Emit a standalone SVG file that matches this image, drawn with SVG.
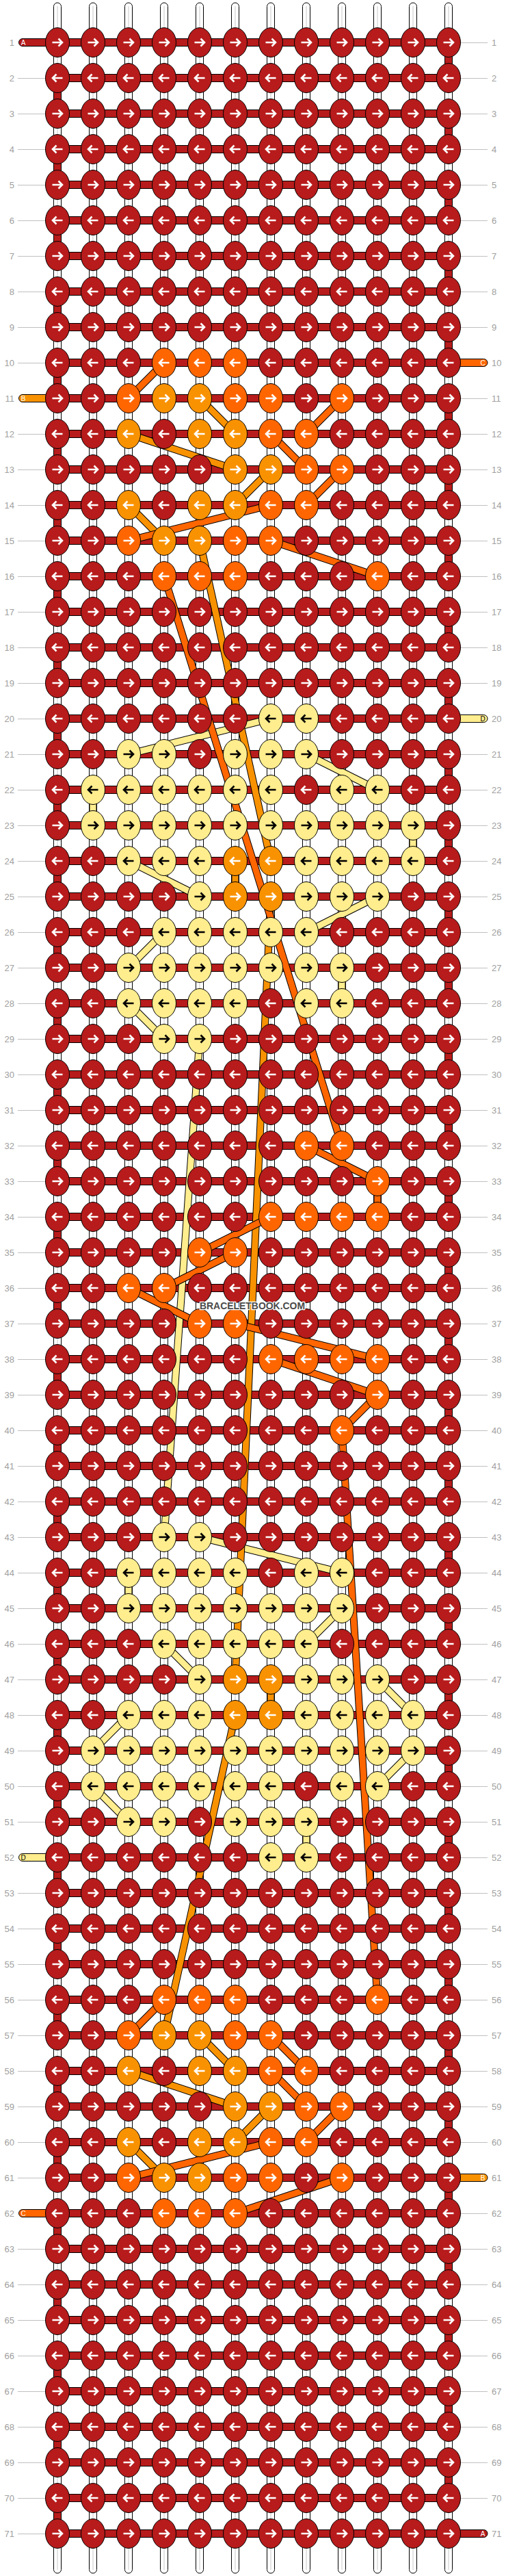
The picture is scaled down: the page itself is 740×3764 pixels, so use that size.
<svg xmlns="http://www.w3.org/2000/svg" xmlns:xlink="http://www.w3.org/1999/xlink" width="740" height="3764" viewBox="0 0 740 3764">
<style>
.s{fill:#fff;stroke:#000;stroke-width:1}
.b{fill:#b71b1b;stroke:#000;stroke-width:1}
.kR{fill:#b71b1b;stroke:#000;stroke-width:1}
.kO{fill:#ff6600;stroke:#000;stroke-width:1}
.kL{fill:#f99200;stroke:#000;stroke-width:1}
.kY{fill:#ffed8e;stroke:#000;stroke-width:1}
.nl{font-family:"Liberation Sans",Arial,sans-serif;font-size:13px;fill:#a0a0a0;text-anchor:end}
.nr{font-family:"Liberation Sans",Arial,sans-serif;font-size:13px;fill:#a0a0a0}
.st{font-family:"Liberation Sans",Arial,sans-serif;font-size:10px;text-anchor:middle}
.gl{stroke:#c0c0c0;stroke-width:1}
.tk{fill:none;stroke:#000;stroke-width:11}
</style>
<defs>
<path id="ar" d="M-7.5,0H6M1.5,-5.5L7,0L1.5,5.5" fill="none" stroke-width="2.6"/>
<path id="al" d="M7.5,0H-6M-1.5,-5.5L-7,0L-1.5,5.5" fill="none" stroke-width="2.6"/>
<g id="Rr"><ellipse rx="17.5" ry="21.5" class="kR"/><use href="#ar" stroke="#fff"/></g>
<g id="Rl"><ellipse rx="17.5" ry="21.5" class="kR"/><use href="#al" stroke="#fff"/></g>
<g id="Or"><ellipse rx="17.5" ry="21.5" class="kO"/><use href="#ar" stroke="#fff"/></g>
<g id="Ol"><ellipse rx="17.5" ry="21.5" class="kO"/><use href="#al" stroke="#fff"/></g>
<g id="Lr"><ellipse rx="17.5" ry="21.5" class="kL"/><use href="#ar" stroke="#fff"/></g>
<g id="Ll"><ellipse rx="17.5" ry="21.5" class="kL"/><use href="#al" stroke="#fff"/></g>
<g id="Yr"><ellipse rx="17.5" ry="21.5" class="kY"/><use href="#ar" stroke="#000"/></g>
<g id="Yl"><ellipse rx="17.5" ry="21.5" class="kY"/><use href="#al" stroke="#000"/></g>
<rect id="bd" x="84" y="-5.5" width="572" height="11" class="b"/>
<rect id="tr" x="650.5" y="0" width="11" height="52" class="b"/>
<rect id="tl" x="78.5" y="0" width="11" height="52" class="b"/>
<path id="gL" d="M26,0.5H67" class="gl"/>
<path id="gR" d="M673,0.5H713" class="gl"/>
</defs>
<rect width="740" height="3764" fill="#fff"/>
<g id="strings">
<rect class="s" x="78.5" y="4" width="11" height="3756" rx="5.5"/>
<rect class="s" x="130.5" y="4" width="11" height="3756" rx="5.5"/>
<rect class="s" x="182.5" y="4" width="11" height="3756" rx="5.5"/>
<rect class="s" x="234.5" y="4" width="11" height="3756" rx="5.5"/>
<rect class="s" x="286.5" y="4" width="11" height="3756" rx="5.5"/>
<rect class="s" x="338.5" y="4" width="11" height="3756" rx="5.5"/>
<rect class="s" x="390.5" y="4" width="11" height="3756" rx="5.5"/>
<rect class="s" x="442.5" y="4" width="11" height="3756" rx="5.5"/>
<rect class="s" x="494.5" y="4" width="11" height="3756" rx="5.5"/>
<rect class="s" x="546.5" y="4" width="11" height="3756" rx="5.5"/>
<rect class="s" x="598.5" y="4" width="11" height="3756" rx="5.5"/>
<rect class="s" x="650.5" y="4" width="11" height="3756" rx="5.5"/>
<path d="M84,9V3755M136,9V3755M188,9V3755M240,9V3755M292,9V3755M344,9V3755M396,9V3755M448,9V3755M500,9V3755M552,9V3755M604,9V3755M656,9V3755" stroke="#c8c8c8" stroke-width="1"/>
</g>
<g id="bands">
<rect class="b" x="27.5" y="56.5" width="628.5" height="11" rx="5.5"/>
<use href="#bd" y="114"/><use href="#bd" y="166"/><use href="#bd" y="218"/><use href="#bd" y="270"/><use href="#bd" y="322"/><use href="#bd" y="374"/><use href="#bd" y="426"/><use href="#bd" y="478"/><use href="#bd" y="530"/><use href="#bd" y="582"/>
<use href="#bd" y="634"/><use href="#bd" y="686"/><use href="#bd" y="738"/><use href="#bd" y="790"/><use href="#bd" y="842"/><use href="#bd" y="894"/><use href="#bd" y="946"/><use href="#bd" y="998"/><use href="#bd" y="1050"/><use href="#bd" y="1102"/>
<use href="#bd" y="1154"/><use href="#bd" y="1206"/><use href="#bd" y="1258"/><use href="#bd" y="1310"/><use href="#bd" y="1362"/><use href="#bd" y="1414"/><use href="#bd" y="1466"/><use href="#bd" y="1518"/><use href="#bd" y="1570"/><use href="#bd" y="1622"/>
<use href="#bd" y="1674"/><use href="#bd" y="1726"/><use href="#bd" y="1778"/><use href="#bd" y="1830"/><use href="#bd" y="1882"/><use href="#bd" y="1934"/><use href="#bd" y="1986"/><use href="#bd" y="2038"/><use href="#bd" y="2090"/><use href="#bd" y="2142"/>
<use href="#bd" y="2194"/><use href="#bd" y="2246"/><use href="#bd" y="2298"/><use href="#bd" y="2350"/><use href="#bd" y="2402"/><use href="#bd" y="2454"/><use href="#bd" y="2506"/><use href="#bd" y="2558"/><use href="#bd" y="2610"/><use href="#bd" y="2662"/>
<use href="#bd" y="2714"/><use href="#bd" y="2766"/><use href="#bd" y="2818"/><use href="#bd" y="2870"/><use href="#bd" y="2922"/><use href="#bd" y="2974"/><use href="#bd" y="3026"/><use href="#bd" y="3078"/><use href="#bd" y="3130"/><use href="#bd" y="3182"/>
<use href="#bd" y="3234"/><use href="#bd" y="3286"/><use href="#bd" y="3338"/><use href="#bd" y="3390"/><use href="#bd" y="3442"/><use href="#bd" y="3494"/><use href="#bd" y="3546"/><use href="#bd" y="3598"/><use href="#bd" y="3650"/>
<rect class="b" x="84" y="3696.5" width="629" height="11" rx="5.5"/>
<use href="#tr" y="62"/><use href="#tl" y="114"/><use href="#tr" y="166"/><use href="#tl" y="218"/><use href="#tr" y="270"/><use href="#tl" y="322"/><use href="#tr" y="374"/><use href="#tl" y="426"/><use href="#tr" y="478"/><use href="#tl" y="530"/>
<use href="#tr" y="582"/><use href="#tl" y="634"/><use href="#tr" y="686"/><use href="#tl" y="738"/><use href="#tr" y="790"/><use href="#tl" y="842"/><use href="#tr" y="894"/><use href="#tl" y="946"/><use href="#tr" y="998"/><use href="#tl" y="1050"/>
<use href="#tr" y="1102"/><use href="#tl" y="1154"/><use href="#tr" y="1206"/><use href="#tl" y="1258"/><use href="#tr" y="1310"/><use href="#tl" y="1362"/><use href="#tr" y="1414"/><use href="#tl" y="1466"/><use href="#tr" y="1518"/><use href="#tl" y="1570"/>
<use href="#tr" y="1622"/><use href="#tl" y="1674"/><use href="#tr" y="1726"/><use href="#tl" y="1778"/><use href="#tr" y="1830"/><use href="#tl" y="1882"/><use href="#tr" y="1934"/><use href="#tl" y="1986"/><use href="#tr" y="2038"/><use href="#tl" y="2090"/>
<use href="#tr" y="2142"/><use href="#tl" y="2194"/><use href="#tr" y="2246"/><use href="#tl" y="2298"/><use href="#tr" y="2350"/><use href="#tl" y="2402"/><use href="#tr" y="2454"/><use href="#tl" y="2506"/><use href="#tr" y="2558"/><use href="#tl" y="2610"/>
<use href="#tr" y="2662"/><use href="#tl" y="2714"/><use href="#tr" y="2766"/><use href="#tl" y="2818"/><use href="#tr" y="2870"/><use href="#tl" y="2922"/><use href="#tr" y="2974"/><use href="#tl" y="3026"/><use href="#tr" y="3078"/><use href="#tl" y="3130"/>
<use href="#tr" y="3182"/><use href="#tl" y="3234"/><use href="#tr" y="3286"/><use href="#tl" y="3338"/><use href="#tr" y="3390"/><use href="#tl" y="3442"/><use href="#tr" y="3494"/><use href="#tl" y="3546"/><use href="#tr" y="3598"/><use href="#tl" y="3650"/>
<rect x="650" y="524.5" width="63" height="11" rx="5.5" class="kO"/>
<rect x="27.5" y="576.5" width="62" height="11" rx="5.5" class="kL"/>
<rect x="650" y="1044.5" width="63" height="11" rx="5.5" class="kY"/>
<rect x="27.5" y="2708.5" width="62" height="11" rx="5.5" class="kY"/>
<rect x="650" y="3176.5" width="63" height="11" rx="5.5" class="kL"/>
<rect x="27.5" y="3228.5" width="62" height="11" rx="5.5" class="kO"/>
<text class="st" x="34" y="65.6" fill="#fff">A</text>
<text class="st" x="706" y="3705.6" fill="#fff">A</text>
<text class="st" x="706" y="533.6" fill="#fff">C</text>
<text class="st" x="34" y="585.6" fill="#fff">B</text>
<text class="st" x="706" y="1053.6" fill="#000">D</text>
<text class="st" x="34" y="2717.6" fill="#000">D</text>
<text class="st" x="706" y="3185.6" fill="#fff">B</text>
<text class="st" x="34" y="3237.6" fill="#fff">C</text>
</g>
<g id="connectors">
<path class="tk" d="M396,1050L188,1102M448,1102L552,1154M136,1154L136,1206M604,1206L604,1258M188,1258L292,1310M552,1310L448,1362M240,1362L188,1414M500,1414L500,1466M188,1466L240,1518M292,1518L240,2246M292,2246L500,2298M188,2298L188,2350M500,2350L448,2402M240,2402L292,2454M552,2454L604,2506M188,2506L136,2558M604,2558L552,2610M136,2610L188,2662M448,2662L448,2714"/>
<path d="M396,1050L188,1102M448,1102L552,1154M136,1154L136,1206M604,1206L604,1258M188,1258L292,1310M552,1310L448,1362M240,1362L188,1414M500,1414L500,1466M188,1466L240,1518M292,1518L240,2246M292,2246L500,2298M188,2298L188,2350M500,2350L448,2402M240,2402L292,2454M552,2454L604,2506M188,2506L136,2558M604,2558L552,2610M136,2610L188,2662M448,2662L448,2714" fill="none" stroke="#ffed8e" stroke-width="9"/>
<path class="tk" d="M292,582L344,634M188,634L344,686M396,686L344,738M188,738L240,790M292,790L396,1258M344,1258L344,1310M396,1310L344,2454M396,2454L396,2506M344,2506L240,2974M292,2974L344,3026M188,3026L344,3078M396,3078L344,3130M188,3130L240,3182"/>
<path d="M292,582L344,634M188,634L344,686M396,686L344,738M188,738L240,790M292,790L396,1258M344,1258L344,1310M396,1310L344,2454M396,2454L396,2506M344,2506L240,2974M292,2974L344,3026M188,3026L344,3078M396,3078L344,3130M188,3130L240,3182" fill="none" stroke="#f99200" stroke-width="9"/>
<path class="tk" d="M240,530L188,582M500,582L448,634M396,634L448,686M500,686L448,738M396,738L188,790M396,790L552,842M240,842L500,1674M448,1674L552,1726M552,1726L552,1778M396,1778L292,1830M344,1830L240,1882M188,1882L292,1934M344,1934L552,1986M396,1986L552,2038M552,2038L500,2090M500,2090L552,2922M240,2922L188,2974M396,2974L448,3026M396,3026L448,3078M500,3078L448,3130M396,3130L188,3182M500,3182L344,3234"/>
<path d="M240,530L188,582M500,582L448,634M396,634L448,686M500,686L448,738M396,738L188,790M396,790L552,842M240,842L500,1674M448,1674L552,1726M552,1726L552,1778M396,1778L292,1830M344,1830L240,1882M188,1882L292,1934M344,1934L552,1986M396,1986L552,2038M552,2038L500,2090M500,2090L552,2922M240,2922L188,2974M396,2974L448,3026M396,3026L448,3078M500,3078L448,3130M396,3130L188,3182M500,3182L344,3234" fill="none" stroke="#ff6600" stroke-width="9"/>
</g>
<g id="labels">
<use href="#gR" y="62"/><use href="#gL" y="114"/><use href="#gR" y="114"/><use href="#gL" y="166"/><use href="#gR" y="166"/><use href="#gL" y="218"/><use href="#gR" y="218"/><use href="#gL" y="270"/><use href="#gR" y="270"/><use href="#gL" y="322"/><use href="#gR" y="322"/><use href="#gL" y="374"/><use href="#gR" y="374"/><use href="#gL" y="426"/><use href="#gR" y="426"/><use href="#gL" y="478"/><use href="#gR" y="478"/><use href="#gL" y="530"/>
<use href="#gR" y="582"/><use href="#gL" y="634"/><use href="#gR" y="634"/><use href="#gL" y="686"/><use href="#gR" y="686"/><use href="#gL" y="738"/><use href="#gR" y="738"/><use href="#gL" y="790"/><use href="#gR" y="790"/><use href="#gL" y="842"/><use href="#gR" y="842"/><use href="#gL" y="894"/><use href="#gR" y="894"/><use href="#gL" y="946"/><use href="#gR" y="946"/><use href="#gL" y="998"/><use href="#gR" y="998"/><use href="#gL" y="1050"/>
<use href="#gL" y="1102"/><use href="#gR" y="1102"/><use href="#gL" y="1154"/><use href="#gR" y="1154"/><use href="#gL" y="1206"/><use href="#gR" y="1206"/><use href="#gL" y="1258"/><use href="#gR" y="1258"/><use href="#gL" y="1310"/><use href="#gR" y="1310"/><use href="#gL" y="1362"/><use href="#gR" y="1362"/><use href="#gL" y="1414"/><use href="#gR" y="1414"/><use href="#gL" y="1466"/><use href="#gR" y="1466"/><use href="#gL" y="1518"/><use href="#gR" y="1518"/>
<use href="#gL" y="1570"/><use href="#gR" y="1570"/><use href="#gL" y="1622"/><use href="#gR" y="1622"/><use href="#gL" y="1674"/><use href="#gR" y="1674"/><use href="#gL" y="1726"/><use href="#gR" y="1726"/><use href="#gL" y="1778"/><use href="#gR" y="1778"/><use href="#gL" y="1830"/><use href="#gR" y="1830"/><use href="#gL" y="1882"/><use href="#gR" y="1882"/><use href="#gL" y="1934"/><use href="#gR" y="1934"/><use href="#gL" y="1986"/><use href="#gR" y="1986"/>
<use href="#gL" y="2038"/><use href="#gR" y="2038"/><use href="#gL" y="2090"/><use href="#gR" y="2090"/><use href="#gL" y="2142"/><use href="#gR" y="2142"/><use href="#gL" y="2194"/><use href="#gR" y="2194"/><use href="#gL" y="2246"/><use href="#gR" y="2246"/><use href="#gL" y="2298"/><use href="#gR" y="2298"/><use href="#gL" y="2350"/><use href="#gR" y="2350"/><use href="#gL" y="2402"/><use href="#gR" y="2402"/><use href="#gL" y="2454"/><use href="#gR" y="2454"/>
<use href="#gL" y="2506"/><use href="#gR" y="2506"/><use href="#gL" y="2558"/><use href="#gR" y="2558"/><use href="#gL" y="2610"/><use href="#gR" y="2610"/><use href="#gL" y="2662"/><use href="#gR" y="2662"/><use href="#gR" y="2714"/><use href="#gL" y="2766"/><use href="#gR" y="2766"/><use href="#gL" y="2818"/><use href="#gR" y="2818"/><use href="#gL" y="2870"/><use href="#gR" y="2870"/><use href="#gL" y="2922"/><use href="#gR" y="2922"/>
<use href="#gL" y="2974"/><use href="#gR" y="2974"/><use href="#gL" y="3026"/><use href="#gR" y="3026"/><use href="#gL" y="3078"/><use href="#gR" y="3078"/><use href="#gL" y="3130"/><use href="#gR" y="3130"/><use href="#gL" y="3182"/><use href="#gR" y="3234"/><use href="#gL" y="3286"/><use href="#gR" y="3286"/><use href="#gL" y="3338"/><use href="#gR" y="3338"/><use href="#gL" y="3390"/><use href="#gR" y="3390"/>
<use href="#gL" y="3442"/><use href="#gR" y="3442"/><use href="#gL" y="3494"/><use href="#gR" y="3494"/><use href="#gL" y="3546"/><use href="#gR" y="3546"/><use href="#gL" y="3598"/><use href="#gR" y="3598"/><use href="#gL" y="3650"/><use href="#gR" y="3650"/><use href="#gL" y="3702"/>
<text class="nl" x="21" y="66.5">1</text><text class="nr" x="719" y="66.5">1</text>
<text class="nl" x="21" y="118.5">2</text><text class="nr" x="719" y="118.5">2</text>
<text class="nl" x="21" y="170.5">3</text><text class="nr" x="719" y="170.5">3</text>
<text class="nl" x="21" y="222.5">4</text><text class="nr" x="719" y="222.5">4</text>
<text class="nl" x="21" y="274.5">5</text><text class="nr" x="719" y="274.5">5</text>
<text class="nl" x="21" y="326.5">6</text><text class="nr" x="719" y="326.5">6</text>
<text class="nl" x="21" y="378.5">7</text><text class="nr" x="719" y="378.5">7</text>
<text class="nl" x="21" y="430.5">8</text><text class="nr" x="719" y="430.5">8</text>
<text class="nl" x="21" y="482.5">9</text><text class="nr" x="719" y="482.5">9</text>
<text class="nl" x="21" y="534.5">10</text><text class="nr" x="719" y="534.5">10</text>
<text class="nl" x="21" y="586.5">11</text><text class="nr" x="719" y="586.5">11</text>
<text class="nl" x="21" y="638.5">12</text><text class="nr" x="719" y="638.5">12</text>
<text class="nl" x="21" y="690.5">13</text><text class="nr" x="719" y="690.5">13</text>
<text class="nl" x="21" y="742.5">14</text><text class="nr" x="719" y="742.5">14</text>
<text class="nl" x="21" y="794.5">15</text><text class="nr" x="719" y="794.5">15</text>
<text class="nl" x="21" y="846.5">16</text><text class="nr" x="719" y="846.5">16</text>
<text class="nl" x="21" y="898.5">17</text><text class="nr" x="719" y="898.5">17</text>
<text class="nl" x="21" y="950.5">18</text><text class="nr" x="719" y="950.5">18</text>
<text class="nl" x="21" y="1002.5">19</text><text class="nr" x="719" y="1002.5">19</text>
<text class="nl" x="21" y="1054.5">20</text><text class="nr" x="719" y="1054.5">20</text>
<text class="nl" x="21" y="1106.5">21</text><text class="nr" x="719" y="1106.5">21</text>
<text class="nl" x="21" y="1158.5">22</text><text class="nr" x="719" y="1158.5">22</text>
<text class="nl" x="21" y="1210.5">23</text><text class="nr" x="719" y="1210.5">23</text>
<text class="nl" x="21" y="1262.5">24</text><text class="nr" x="719" y="1262.5">24</text>
<text class="nl" x="21" y="1314.5">25</text><text class="nr" x="719" y="1314.5">25</text>
<text class="nl" x="21" y="1366.5">26</text><text class="nr" x="719" y="1366.5">26</text>
<text class="nl" x="21" y="1418.5">27</text><text class="nr" x="719" y="1418.5">27</text>
<text class="nl" x="21" y="1470.5">28</text><text class="nr" x="719" y="1470.5">28</text>
<text class="nl" x="21" y="1522.5">29</text><text class="nr" x="719" y="1522.5">29</text>
<text class="nl" x="21" y="1574.5">30</text><text class="nr" x="719" y="1574.5">30</text>
<text class="nl" x="21" y="1626.5">31</text><text class="nr" x="719" y="1626.5">31</text>
<text class="nl" x="21" y="1678.5">32</text><text class="nr" x="719" y="1678.5">32</text>
<text class="nl" x="21" y="1730.5">33</text><text class="nr" x="719" y="1730.5">33</text>
<text class="nl" x="21" y="1782.5">34</text><text class="nr" x="719" y="1782.5">34</text>
<text class="nl" x="21" y="1834.5">35</text><text class="nr" x="719" y="1834.5">35</text>
<text class="nl" x="21" y="1886.5">36</text><text class="nr" x="719" y="1886.5">36</text>
<text class="nl" x="21" y="1938.5">37</text><text class="nr" x="719" y="1938.5">37</text>
<text class="nl" x="21" y="1990.5">38</text><text class="nr" x="719" y="1990.5">38</text>
<text class="nl" x="21" y="2042.5">39</text><text class="nr" x="719" y="2042.5">39</text>
<text class="nl" x="21" y="2094.5">40</text><text class="nr" x="719" y="2094.5">40</text>
<text class="nl" x="21" y="2146.5">41</text><text class="nr" x="719" y="2146.5">41</text>
<text class="nl" x="21" y="2198.5">42</text><text class="nr" x="719" y="2198.5">42</text>
<text class="nl" x="21" y="2250.5">43</text><text class="nr" x="719" y="2250.5">43</text>
<text class="nl" x="21" y="2302.5">44</text><text class="nr" x="719" y="2302.5">44</text>
<text class="nl" x="21" y="2354.5">45</text><text class="nr" x="719" y="2354.5">45</text>
<text class="nl" x="21" y="2406.5">46</text><text class="nr" x="719" y="2406.5">46</text>
<text class="nl" x="21" y="2458.5">47</text><text class="nr" x="719" y="2458.5">47</text>
<text class="nl" x="21" y="2510.5">48</text><text class="nr" x="719" y="2510.5">48</text>
<text class="nl" x="21" y="2562.5">49</text><text class="nr" x="719" y="2562.5">49</text>
<text class="nl" x="21" y="2614.5">50</text><text class="nr" x="719" y="2614.5">50</text>
<text class="nl" x="21" y="2666.5">51</text><text class="nr" x="719" y="2666.5">51</text>
<text class="nl" x="21" y="2718.5">52</text><text class="nr" x="719" y="2718.5">52</text>
<text class="nl" x="21" y="2770.5">53</text><text class="nr" x="719" y="2770.5">53</text>
<text class="nl" x="21" y="2822.5">54</text><text class="nr" x="719" y="2822.5">54</text>
<text class="nl" x="21" y="2874.5">55</text><text class="nr" x="719" y="2874.5">55</text>
<text class="nl" x="21" y="2926.5">56</text><text class="nr" x="719" y="2926.5">56</text>
<text class="nl" x="21" y="2978.5">57</text><text class="nr" x="719" y="2978.5">57</text>
<text class="nl" x="21" y="3030.5">58</text><text class="nr" x="719" y="3030.5">58</text>
<text class="nl" x="21" y="3082.5">59</text><text class="nr" x="719" y="3082.5">59</text>
<text class="nl" x="21" y="3134.5">60</text><text class="nr" x="719" y="3134.5">60</text>
<text class="nl" x="21" y="3186.5">61</text><text class="nr" x="719" y="3186.5">61</text>
<text class="nl" x="21" y="3238.5">62</text><text class="nr" x="719" y="3238.5">62</text>
<text class="nl" x="21" y="3290.5">63</text><text class="nr" x="719" y="3290.5">63</text>
<text class="nl" x="21" y="3342.5">64</text><text class="nr" x="719" y="3342.5">64</text>
<text class="nl" x="21" y="3394.5">65</text><text class="nr" x="719" y="3394.5">65</text>
<text class="nl" x="21" y="3446.5">66</text><text class="nr" x="719" y="3446.5">66</text>
<text class="nl" x="21" y="3498.5">67</text><text class="nr" x="719" y="3498.5">67</text>
<text class="nl" x="21" y="3550.5">68</text><text class="nr" x="719" y="3550.5">68</text>
<text class="nl" x="21" y="3602.5">69</text><text class="nr" x="719" y="3602.5">69</text>
<text class="nl" x="21" y="3654.5">70</text><text class="nr" x="719" y="3654.5">70</text>
<text class="nl" x="21" y="3706.5">71</text><text class="nr" x="719" y="3706.5">71</text>
</g>
<g id="knots">
<g id="r1" transform="translate(0,62)"><g id="k1_0"><use href="#Rr" x="84"/></g><g id="k1_1"><use href="#Rr" x="136"/></g><g id="k1_2"><use href="#Rr" x="188"/></g><g id="k1_3"><use href="#Rr" x="240"/></g><g id="k1_4"><use href="#Rr" x="292"/></g><g id="k1_5"><use href="#Rr" x="344"/></g><g id="k1_6"><use href="#Rr" x="396"/></g><g id="k1_7"><use href="#Rr" x="448"/></g><g id="k1_8"><use href="#Rr" x="500"/></g><g id="k1_9"><use href="#Rr" x="552"/></g><g id="k1_10"><use href="#Rr" x="604"/></g><g id="k1_11"><use href="#Rr" x="656"/></g></g>
<g id="r2" transform="translate(0,114)"><g id="k2_0"><use href="#Rl" x="84"/></g><g id="k2_1"><use href="#Rl" x="136"/></g><g id="k2_2"><use href="#Rl" x="188"/></g><g id="k2_3"><use href="#Rl" x="240"/></g><g id="k2_4"><use href="#Rl" x="292"/></g><g id="k2_5"><use href="#Rl" x="344"/></g><g id="k2_6"><use href="#Rl" x="396"/></g><g id="k2_7"><use href="#Rl" x="448"/></g><g id="k2_8"><use href="#Rl" x="500"/></g><g id="k2_9"><use href="#Rl" x="552"/></g><g id="k2_10"><use href="#Rl" x="604"/></g><g id="k2_11"><use href="#Rl" x="656"/></g></g>
<g id="r3" transform="translate(0,166)"><g id="k3_0"><use href="#Rr" x="84"/></g><g id="k3_1"><use href="#Rr" x="136"/></g><g id="k3_2"><use href="#Rr" x="188"/></g><g id="k3_3"><use href="#Rr" x="240"/></g><g id="k3_4"><use href="#Rr" x="292"/></g><g id="k3_5"><use href="#Rr" x="344"/></g><g id="k3_6"><use href="#Rr" x="396"/></g><g id="k3_7"><use href="#Rr" x="448"/></g><g id="k3_8"><use href="#Rr" x="500"/></g><g id="k3_9"><use href="#Rr" x="552"/></g><g id="k3_10"><use href="#Rr" x="604"/></g><g id="k3_11"><use href="#Rr" x="656"/></g></g>
<g id="r4" transform="translate(0,218)"><g id="k4_0"><use href="#Rl" x="84"/></g><g id="k4_1"><use href="#Rl" x="136"/></g><g id="k4_2"><use href="#Rl" x="188"/></g><g id="k4_3"><use href="#Rl" x="240"/></g><g id="k4_4"><use href="#Rl" x="292"/></g><g id="k4_5"><use href="#Rl" x="344"/></g><g id="k4_6"><use href="#Rl" x="396"/></g><g id="k4_7"><use href="#Rl" x="448"/></g><g id="k4_8"><use href="#Rl" x="500"/></g><g id="k4_9"><use href="#Rl" x="552"/></g><g id="k4_10"><use href="#Rl" x="604"/></g><g id="k4_11"><use href="#Rl" x="656"/></g></g>
<g id="r5" transform="translate(0,270)"><g id="k5_0"><use href="#Rr" x="84"/></g><g id="k5_1"><use href="#Rr" x="136"/></g><g id="k5_2"><use href="#Rr" x="188"/></g><g id="k5_3"><use href="#Rr" x="240"/></g><g id="k5_4"><use href="#Rr" x="292"/></g><g id="k5_5"><use href="#Rr" x="344"/></g><g id="k5_6"><use href="#Rr" x="396"/></g><g id="k5_7"><use href="#Rr" x="448"/></g><g id="k5_8"><use href="#Rr" x="500"/></g><g id="k5_9"><use href="#Rr" x="552"/></g><g id="k5_10"><use href="#Rr" x="604"/></g><g id="k5_11"><use href="#Rr" x="656"/></g></g>
<g id="r6" transform="translate(0,322)"><g id="k6_0"><use href="#Rl" x="84"/></g><g id="k6_1"><use href="#Rl" x="136"/></g><g id="k6_2"><use href="#Rl" x="188"/></g><g id="k6_3"><use href="#Rl" x="240"/></g><g id="k6_4"><use href="#Rl" x="292"/></g><g id="k6_5"><use href="#Rl" x="344"/></g><g id="k6_6"><use href="#Rl" x="396"/></g><g id="k6_7"><use href="#Rl" x="448"/></g><g id="k6_8"><use href="#Rl" x="500"/></g><g id="k6_9"><use href="#Rl" x="552"/></g><g id="k6_10"><use href="#Rl" x="604"/></g><g id="k6_11"><use href="#Rl" x="656"/></g></g>
<g id="r7" transform="translate(0,374)"><g id="k7_0"><use href="#Rr" x="84"/></g><g id="k7_1"><use href="#Rr" x="136"/></g><g id="k7_2"><use href="#Rr" x="188"/></g><g id="k7_3"><use href="#Rr" x="240"/></g><g id="k7_4"><use href="#Rr" x="292"/></g><g id="k7_5"><use href="#Rr" x="344"/></g><g id="k7_6"><use href="#Rr" x="396"/></g><g id="k7_7"><use href="#Rr" x="448"/></g><g id="k7_8"><use href="#Rr" x="500"/></g><g id="k7_9"><use href="#Rr" x="552"/></g><g id="k7_10"><use href="#Rr" x="604"/></g><g id="k7_11"><use href="#Rr" x="656"/></g></g>
<g id="r8" transform="translate(0,426)"><g id="k8_0"><use href="#Rl" x="84"/></g><g id="k8_1"><use href="#Rl" x="136"/></g><g id="k8_2"><use href="#Rl" x="188"/></g><g id="k8_3"><use href="#Rl" x="240"/></g><g id="k8_4"><use href="#Rl" x="292"/></g><g id="k8_5"><use href="#Rl" x="344"/></g><g id="k8_6"><use href="#Rl" x="396"/></g><g id="k8_7"><use href="#Rl" x="448"/></g><g id="k8_8"><use href="#Rl" x="500"/></g><g id="k8_9"><use href="#Rl" x="552"/></g><g id="k8_10"><use href="#Rl" x="604"/></g><g id="k8_11"><use href="#Rl" x="656"/></g></g>
<g id="r9" transform="translate(0,478)"><g id="k9_0"><use href="#Rr" x="84"/></g><g id="k9_1"><use href="#Rr" x="136"/></g><g id="k9_2"><use href="#Rr" x="188"/></g><g id="k9_3"><use href="#Rr" x="240"/></g><g id="k9_4"><use href="#Rr" x="292"/></g><g id="k9_5"><use href="#Rr" x="344"/></g><g id="k9_6"><use href="#Rr" x="396"/></g><g id="k9_7"><use href="#Rr" x="448"/></g><g id="k9_8"><use href="#Rr" x="500"/></g><g id="k9_9"><use href="#Rr" x="552"/></g><g id="k9_10"><use href="#Rr" x="604"/></g><g id="k9_11"><use href="#Rr" x="656"/></g></g>
<g id="r10" transform="translate(0,530)"><g id="k10_0"><use href="#Rl" x="84"/></g><g id="k10_1"><use href="#Rl" x="136"/></g><g id="k10_2"><use href="#Rl" x="188"/></g><g id="k10_3"><use href="#Ol" x="240"/></g><g id="k10_4"><use href="#Ol" x="292"/></g><g id="k10_5"><use href="#Ol" x="344"/></g><g id="k10_6"><use href="#Rl" x="396"/></g><g id="k10_7"><use href="#Rl" x="448"/></g><g id="k10_8"><use href="#Rl" x="500"/></g><g id="k10_9"><use href="#Rl" x="552"/></g><g id="k10_10"><use href="#Rl" x="604"/></g><g id="k10_11"><use href="#Rl" x="656"/></g></g>
<g id="r11" transform="translate(0,582)"><g id="k11_0"><use href="#Rr" x="84"/></g><g id="k11_1"><use href="#Rr" x="136"/></g><g id="k11_2"><use href="#Or" x="188"/></g><g id="k11_3"><use href="#Lr" x="240"/></g><g id="k11_4"><use href="#Lr" x="292"/></g><g id="k11_5"><use href="#Or" x="344"/></g><g id="k11_6"><use href="#Or" x="396"/></g><g id="k11_7"><use href="#Rr" x="448"/></g><g id="k11_8"><use href="#Or" x="500"/></g><g id="k11_9"><use href="#Rr" x="552"/></g><g id="k11_10"><use href="#Rr" x="604"/></g><g id="k11_11"><use href="#Rr" x="656"/></g></g>
<g id="r12" transform="translate(0,634)"><g id="k12_0"><use href="#Rl" x="84"/></g><g id="k12_1"><use href="#Rl" x="136"/></g><g id="k12_2"><use href="#Ll" x="188"/></g><g id="k12_3"><use href="#Rl" x="240"/></g><g id="k12_4"><use href="#Ll" x="292"/></g><g id="k12_5"><use href="#Ll" x="344"/></g><g id="k12_6"><use href="#Ol" x="396"/></g><g id="k12_7"><use href="#Ol" x="448"/></g><g id="k12_8"><use href="#Rl" x="500"/></g><g id="k12_9"><use href="#Rl" x="552"/></g><g id="k12_10"><use href="#Rl" x="604"/></g><g id="k12_11"><use href="#Rl" x="656"/></g></g>
<g id="r13" transform="translate(0,686)"><g id="k13_0"><use href="#Rr" x="84"/></g><g id="k13_1"><use href="#Rr" x="136"/></g><g id="k13_2"><use href="#Rr" x="188"/></g><g id="k13_3"><use href="#Rr" x="240"/></g><g id="k13_4"><use href="#Rr" x="292"/></g><g id="k13_5"><use href="#Lr" x="344"/></g><g id="k13_6"><use href="#Lr" x="396"/></g><g id="k13_7"><use href="#Or" x="448"/></g><g id="k13_8"><use href="#Or" x="500"/></g><g id="k13_9"><use href="#Rr" x="552"/></g><g id="k13_10"><use href="#Rr" x="604"/></g><g id="k13_11"><use href="#Rr" x="656"/></g></g>
<g id="r14" transform="translate(0,738)"><g id="k14_0"><use href="#Rl" x="84"/></g><g id="k14_1"><use href="#Rl" x="136"/></g><g id="k14_2"><use href="#Ll" x="188"/></g><g id="k14_3"><use href="#Rl" x="240"/></g><g id="k14_4"><use href="#Ll" x="292"/></g><g id="k14_5"><use href="#Ll" x="344"/></g><g id="k14_6"><use href="#Ol" x="396"/></g><g id="k14_7"><use href="#Ol" x="448"/></g><g id="k14_8"><use href="#Rl" x="500"/></g><g id="k14_9"><use href="#Rl" x="552"/></g><g id="k14_10"><use href="#Rl" x="604"/></g><g id="k14_11"><use href="#Rl" x="656"/></g></g>
<g id="r15" transform="translate(0,790)"><g id="k15_0"><use href="#Rr" x="84"/></g><g id="k15_1"><use href="#Rr" x="136"/></g><g id="k15_2"><use href="#Or" x="188"/></g><g id="k15_3"><use href="#Lr" x="240"/></g><g id="k15_4"><use href="#Lr" x="292"/></g><g id="k15_5"><use href="#Or" x="344"/></g><g id="k15_6"><use href="#Or" x="396"/></g><g id="k15_7"><use href="#Rr" x="448"/></g><g id="k15_8"><use href="#Rr" x="500"/></g><g id="k15_9"><use href="#Rr" x="552"/></g><g id="k15_10"><use href="#Rr" x="604"/></g><g id="k15_11"><use href="#Rr" x="656"/></g></g>
<g id="r16" transform="translate(0,842)"><g id="k16_0"><use href="#Rl" x="84"/></g><g id="k16_1"><use href="#Rl" x="136"/></g><g id="k16_2"><use href="#Rl" x="188"/></g><g id="k16_3"><use href="#Ol" x="240"/></g><g id="k16_4"><use href="#Ol" x="292"/></g><g id="k16_5"><use href="#Ol" x="344"/></g><g id="k16_6"><use href="#Rl" x="396"/></g><g id="k16_7"><use href="#Rl" x="448"/></g><g id="k16_8"><use href="#Rl" x="500"/></g><g id="k16_9"><use href="#Ol" x="552"/></g><g id="k16_10"><use href="#Rl" x="604"/></g><g id="k16_11"><use href="#Rl" x="656"/></g></g>
<g id="r17" transform="translate(0,894)"><g id="k17_0"><use href="#Rr" x="84"/></g><g id="k17_1"><use href="#Rr" x="136"/></g><g id="k17_2"><use href="#Rr" x="188"/></g><g id="k17_3"><use href="#Rr" x="240"/></g><g id="k17_4"><use href="#Rr" x="292"/></g><g id="k17_5"><use href="#Rr" x="344"/></g><g id="k17_6"><use href="#Rr" x="396"/></g><g id="k17_7"><use href="#Rr" x="448"/></g><g id="k17_8"><use href="#Rr" x="500"/></g><g id="k17_9"><use href="#Rr" x="552"/></g><g id="k17_10"><use href="#Rr" x="604"/></g><g id="k17_11"><use href="#Rr" x="656"/></g></g>
<g id="r18" transform="translate(0,946)"><g id="k18_0"><use href="#Rl" x="84"/></g><g id="k18_1"><use href="#Rl" x="136"/></g><g id="k18_2"><use href="#Rl" x="188"/></g><g id="k18_3"><use href="#Rl" x="240"/></g><g id="k18_4"><use href="#Rl" x="292"/></g><g id="k18_5"><use href="#Rl" x="344"/></g><g id="k18_6"><use href="#Rl" x="396"/></g><g id="k18_7"><use href="#Rl" x="448"/></g><g id="k18_8"><use href="#Rl" x="500"/></g><g id="k18_9"><use href="#Rl" x="552"/></g><g id="k18_10"><use href="#Rl" x="604"/></g><g id="k18_11"><use href="#Rl" x="656"/></g></g>
<g id="r19" transform="translate(0,998)"><g id="k19_0"><use href="#Rr" x="84"/></g><g id="k19_1"><use href="#Rr" x="136"/></g><g id="k19_2"><use href="#Rr" x="188"/></g><g id="k19_3"><use href="#Rr" x="240"/></g><g id="k19_4"><use href="#Rr" x="292"/></g><g id="k19_5"><use href="#Rr" x="344"/></g><g id="k19_6"><use href="#Rr" x="396"/></g><g id="k19_7"><use href="#Rr" x="448"/></g><g id="k19_8"><use href="#Rr" x="500"/></g><g id="k19_9"><use href="#Rr" x="552"/></g><g id="k19_10"><use href="#Rr" x="604"/></g><g id="k19_11"><use href="#Rr" x="656"/></g></g>
<g id="r20" transform="translate(0,1050)"><g id="k20_0"><use href="#Rl" x="84"/></g><g id="k20_1"><use href="#Rl" x="136"/></g><g id="k20_2"><use href="#Rl" x="188"/></g><g id="k20_3"><use href="#Rl" x="240"/></g><g id="k20_4"><use href="#Rl" x="292"/></g><g id="k20_5"><use href="#Rl" x="344"/></g><g id="k20_6"><use href="#Yl" x="396"/></g><g id="k20_7"><use href="#Yl" x="448"/></g><g id="k20_8"><use href="#Rl" x="500"/></g><g id="k20_9"><use href="#Rl" x="552"/></g><g id="k20_10"><use href="#Rl" x="604"/></g><g id="k20_11"><use href="#Rl" x="656"/></g></g>
<g id="r21" transform="translate(0,1102)"><g id="k21_0"><use href="#Rr" x="84"/></g><g id="k21_1"><use href="#Rr" x="136"/></g><g id="k21_2"><use href="#Yr" x="188"/></g><g id="k21_3"><use href="#Yr" x="240"/></g><g id="k21_4"><use href="#Rr" x="292"/></g><g id="k21_5"><use href="#Yr" x="344"/></g><g id="k21_6"><use href="#Yr" x="396"/></g><g id="k21_7"><use href="#Yr" x="448"/></g><g id="k21_8"><use href="#Rr" x="500"/></g><g id="k21_9"><use href="#Rr" x="552"/></g><g id="k21_10"><use href="#Rr" x="604"/></g><g id="k21_11"><use href="#Rr" x="656"/></g></g>
<g id="r22" transform="translate(0,1154)"><g id="k22_0"><use href="#Rl" x="84"/></g><g id="k22_1"><use href="#Yl" x="136"/></g><g id="k22_2"><use href="#Yl" x="188"/></g><g id="k22_3"><use href="#Yl" x="240"/></g><g id="k22_4"><use href="#Yl" x="292"/></g><g id="k22_5"><use href="#Yl" x="344"/></g><g id="k22_6"><use href="#Yl" x="396"/></g><g id="k22_7"><use href="#Rl" x="448"/></g><g id="k22_8"><use href="#Yl" x="500"/></g><g id="k22_9"><use href="#Yl" x="552"/></g><g id="k22_10"><use href="#Rl" x="604"/></g><g id="k22_11"><use href="#Rl" x="656"/></g></g>
<g id="r23" transform="translate(0,1206)"><g id="k23_0"><use href="#Rr" x="84"/></g><g id="k23_1"><use href="#Yr" x="136"/></g><g id="k23_2"><use href="#Yr" x="188"/></g><g id="k23_3"><use href="#Yr" x="240"/></g><g id="k23_4"><use href="#Yr" x="292"/></g><g id="k23_5"><use href="#Yr" x="344"/></g><g id="k23_6"><use href="#Yr" x="396"/></g><g id="k23_7"><use href="#Yr" x="448"/></g><g id="k23_8"><use href="#Yr" x="500"/></g><g id="k23_9"><use href="#Yr" x="552"/></g><g id="k23_10"><use href="#Yr" x="604"/></g><g id="k23_11"><use href="#Rr" x="656"/></g></g>
<g id="r24" transform="translate(0,1258)"><g id="k24_0"><use href="#Rl" x="84"/></g><g id="k24_1"><use href="#Rl" x="136"/></g><g id="k24_2"><use href="#Yl" x="188"/></g><g id="k24_3"><use href="#Yl" x="240"/></g><g id="k24_4"><use href="#Yl" x="292"/></g><g id="k24_5"><use href="#Ll" x="344"/></g><g id="k24_6"><use href="#Ll" x="396"/></g><g id="k24_7"><use href="#Yl" x="448"/></g><g id="k24_8"><use href="#Yl" x="500"/></g><g id="k24_9"><use href="#Yl" x="552"/></g><g id="k24_10"><use href="#Yl" x="604"/></g><g id="k24_11"><use href="#Rl" x="656"/></g></g>
<g id="r25" transform="translate(0,1310)"><g id="k25_0"><use href="#Rr" x="84"/></g><g id="k25_1"><use href="#Rr" x="136"/></g><g id="k25_2"><use href="#Rr" x="188"/></g><g id="k25_3"><use href="#Rr" x="240"/></g><g id="k25_4"><use href="#Yr" x="292"/></g><g id="k25_5"><use href="#Lr" x="344"/></g><g id="k25_6"><use href="#Lr" x="396"/></g><g id="k25_7"><use href="#Yr" x="448"/></g><g id="k25_8"><use href="#Yr" x="500"/></g><g id="k25_9"><use href="#Yr" x="552"/></g><g id="k25_10"><use href="#Rr" x="604"/></g><g id="k25_11"><use href="#Rr" x="656"/></g></g>
<g id="r26" transform="translate(0,1362)"><g id="k26_0"><use href="#Rl" x="84"/></g><g id="k26_1"><use href="#Rl" x="136"/></g><g id="k26_2"><use href="#Rl" x="188"/></g><g id="k26_3"><use href="#Yl" x="240"/></g><g id="k26_4"><use href="#Yl" x="292"/></g><g id="k26_5"><use href="#Yl" x="344"/></g><g id="k26_6"><use href="#Yl" x="396"/></g><g id="k26_7"><use href="#Yl" x="448"/></g><g id="k26_8"><use href="#Rl" x="500"/></g><g id="k26_9"><use href="#Rl" x="552"/></g><g id="k26_10"><use href="#Rl" x="604"/></g><g id="k26_11"><use href="#Rl" x="656"/></g></g>
<g id="r27" transform="translate(0,1414)"><g id="k27_0"><use href="#Rr" x="84"/></g><g id="k27_1"><use href="#Rr" x="136"/></g><g id="k27_2"><use href="#Yr" x="188"/></g><g id="k27_3"><use href="#Yr" x="240"/></g><g id="k27_4"><use href="#Yr" x="292"/></g><g id="k27_5"><use href="#Yr" x="344"/></g><g id="k27_6"><use href="#Yr" x="396"/></g><g id="k27_7"><use href="#Yr" x="448"/></g><g id="k27_8"><use href="#Yr" x="500"/></g><g id="k27_9"><use href="#Rr" x="552"/></g><g id="k27_10"><use href="#Rr" x="604"/></g><g id="k27_11"><use href="#Rr" x="656"/></g></g>
<g id="r28" transform="translate(0,1466)"><g id="k28_0"><use href="#Rl" x="84"/></g><g id="k28_1"><use href="#Rl" x="136"/></g><g id="k28_2"><use href="#Yl" x="188"/></g><g id="k28_3"><use href="#Yl" x="240"/></g><g id="k28_4"><use href="#Yl" x="292"/></g><g id="k28_5"><use href="#Yl" x="344"/></g><g id="k28_6"><use href="#Rl" x="396"/></g><g id="k28_7"><use href="#Yl" x="448"/></g><g id="k28_8"><use href="#Yl" x="500"/></g><g id="k28_9"><use href="#Rl" x="552"/></g><g id="k28_10"><use href="#Rl" x="604"/></g><g id="k28_11"><use href="#Rl" x="656"/></g></g>
<g id="r29" transform="translate(0,1518)"><g id="k29_0"><use href="#Rr" x="84"/></g><g id="k29_1"><use href="#Rr" x="136"/></g><g id="k29_2"><use href="#Rr" x="188"/></g><g id="k29_3"><use href="#Yr" x="240"/></g><g id="k29_4"><use href="#Yr" x="292"/></g><g id="k29_5"><use href="#Rr" x="344"/></g><g id="k29_6"><use href="#Rr" x="396"/></g><g id="k29_7"><use href="#Rr" x="448"/></g><g id="k29_8"><use href="#Rr" x="500"/></g><g id="k29_9"><use href="#Rr" x="552"/></g><g id="k29_10"><use href="#Rr" x="604"/></g><g id="k29_11"><use href="#Rr" x="656"/></g></g>
<g id="r30" transform="translate(0,1570)"><g id="k30_0"><use href="#Rl" x="84"/></g><g id="k30_1"><use href="#Rl" x="136"/></g><g id="k30_2"><use href="#Rl" x="188"/></g><g id="k30_3"><use href="#Rl" x="240"/></g><g id="k30_4"><use href="#Rl" x="292"/></g><g id="k30_5"><use href="#Rl" x="344"/></g><g id="k30_6"><use href="#Rl" x="396"/></g><g id="k30_7"><use href="#Rl" x="448"/></g><g id="k30_8"><use href="#Rl" x="500"/></g><g id="k30_9"><use href="#Rl" x="552"/></g><g id="k30_10"><use href="#Rl" x="604"/></g><g id="k30_11"><use href="#Rl" x="656"/></g></g>
<g id="r31" transform="translate(0,1622)"><g id="k31_0"><use href="#Rr" x="84"/></g><g id="k31_1"><use href="#Rr" x="136"/></g><g id="k31_2"><use href="#Rr" x="188"/></g><g id="k31_3"><use href="#Rr" x="240"/></g><g id="k31_4"><use href="#Rr" x="292"/></g><g id="k31_5"><use href="#Rr" x="344"/></g><g id="k31_6"><use href="#Rr" x="396"/></g><g id="k31_7"><use href="#Rr" x="448"/></g><g id="k31_8"><use href="#Rr" x="500"/></g><g id="k31_9"><use href="#Rr" x="552"/></g><g id="k31_10"><use href="#Rr" x="604"/></g><g id="k31_11"><use href="#Rr" x="656"/></g></g>
<g id="r32" transform="translate(0,1674)"><g id="k32_0"><use href="#Rl" x="84"/></g><g id="k32_1"><use href="#Rl" x="136"/></g><g id="k32_2"><use href="#Rl" x="188"/></g><g id="k32_3"><use href="#Rl" x="240"/></g><g id="k32_4"><use href="#Rl" x="292"/></g><g id="k32_5"><use href="#Rl" x="344"/></g><g id="k32_6"><use href="#Rl" x="396"/></g><g id="k32_7"><use href="#Ol" x="448"/></g><g id="k32_8"><use href="#Ol" x="500"/></g><g id="k32_9"><use href="#Rl" x="552"/></g><g id="k32_10"><use href="#Rl" x="604"/></g><g id="k32_11"><use href="#Rl" x="656"/></g></g>
<g id="r33" transform="translate(0,1726)"><g id="k33_0"><use href="#Rr" x="84"/></g><g id="k33_1"><use href="#Rr" x="136"/></g><g id="k33_2"><use href="#Rr" x="188"/></g><g id="k33_3"><use href="#Rr" x="240"/></g><g id="k33_4"><use href="#Rr" x="292"/></g><g id="k33_5"><use href="#Rr" x="344"/></g><g id="k33_6"><use href="#Rr" x="396"/></g><g id="k33_7"><use href="#Rr" x="448"/></g><g id="k33_8"><use href="#Rr" x="500"/></g><g id="k33_9"><use href="#Or" x="552"/></g><g id="k33_10"><use href="#Rr" x="604"/></g><g id="k33_11"><use href="#Rr" x="656"/></g></g>
<g id="r34" transform="translate(0,1778)"><g id="k34_0"><use href="#Rl" x="84"/></g><g id="k34_1"><use href="#Rl" x="136"/></g><g id="k34_2"><use href="#Rl" x="188"/></g><g id="k34_3"><use href="#Rl" x="240"/></g><g id="k34_4"><use href="#Rl" x="292"/></g><g id="k34_5"><use href="#Rl" x="344"/></g><g id="k34_6"><use href="#Ol" x="396"/></g><g id="k34_7"><use href="#Ol" x="448"/></g><g id="k34_8"><use href="#Ol" x="500"/></g><g id="k34_9"><use href="#Ol" x="552"/></g><g id="k34_10"><use href="#Rl" x="604"/></g><g id="k34_11"><use href="#Rl" x="656"/></g></g>
<g id="r35" transform="translate(0,1830)"><g id="k35_0"><use href="#Rr" x="84"/></g><g id="k35_1"><use href="#Rr" x="136"/></g><g id="k35_2"><use href="#Rr" x="188"/></g><g id="k35_3"><use href="#Rr" x="240"/></g><g id="k35_4"><use href="#Or" x="292"/></g><g id="k35_5"><use href="#Or" x="344"/></g><g id="k35_6"><use href="#Rr" x="396"/></g><g id="k35_7"><use href="#Rr" x="448"/></g><g id="k35_8"><use href="#Rr" x="500"/></g><g id="k35_9"><use href="#Rr" x="552"/></g><g id="k35_10"><use href="#Rr" x="604"/></g><g id="k35_11"><use href="#Rr" x="656"/></g></g>
<g id="r36" transform="translate(0,1882)"><g id="k36_0"><use href="#Rl" x="84"/></g><g id="k36_1"><use href="#Rl" x="136"/></g><g id="k36_2"><use href="#Ol" x="188"/></g><g id="k36_3"><use href="#Ol" x="240"/></g><g id="k36_4"><use href="#Rl" x="292"/></g><g id="k36_5"><use href="#Rl" x="344"/></g><g id="k36_6"><use href="#Rl" x="396"/></g><g id="k36_7"><use href="#Rl" x="448"/></g><g id="k36_8"><use href="#Rl" x="500"/></g><g id="k36_9"><use href="#Rl" x="552"/></g><g id="k36_10"><use href="#Rl" x="604"/></g><g id="k36_11"><use href="#Rl" x="656"/></g></g>
<g id="r37" transform="translate(0,1934)"><g id="k37_0"><use href="#Rr" x="84"/></g><g id="k37_1"><use href="#Rr" x="136"/></g><g id="k37_2"><use href="#Rr" x="188"/></g><g id="k37_3"><use href="#Rr" x="240"/></g><g id="k37_4"><use href="#Or" x="292"/></g><g id="k37_5"><use href="#Or" x="344"/></g><g id="k37_6"><use href="#Rr" x="396"/></g><g id="k37_7"><use href="#Rr" x="448"/></g><g id="k37_8"><use href="#Rr" x="500"/></g><g id="k37_9"><use href="#Rr" x="552"/></g><g id="k37_10"><use href="#Rr" x="604"/></g><g id="k37_11"><use href="#Rr" x="656"/></g></g>
<g id="r38" transform="translate(0,1986)"><g id="k38_0"><use href="#Rl" x="84"/></g><g id="k38_1"><use href="#Rl" x="136"/></g><g id="k38_2"><use href="#Rl" x="188"/></g><g id="k38_3"><use href="#Rl" x="240"/></g><g id="k38_4"><use href="#Rl" x="292"/></g><g id="k38_5"><use href="#Rl" x="344"/></g><g id="k38_6"><use href="#Ol" x="396"/></g><g id="k38_7"><use href="#Ol" x="448"/></g><g id="k38_8"><use href="#Ol" x="500"/></g><g id="k38_9"><use href="#Ol" x="552"/></g><g id="k38_10"><use href="#Rl" x="604"/></g><g id="k38_11"><use href="#Rl" x="656"/></g></g>
<g id="r39" transform="translate(0,2038)"><g id="k39_0"><use href="#Rr" x="84"/></g><g id="k39_1"><use href="#Rr" x="136"/></g><g id="k39_2"><use href="#Rr" x="188"/></g><g id="k39_3"><use href="#Rr" x="240"/></g><g id="k39_4"><use href="#Rr" x="292"/></g><g id="k39_5"><use href="#Rr" x="344"/></g><g id="k39_6"><use href="#Rr" x="396"/></g><g id="k39_7"><use href="#Rr" x="448"/></g><g id="k39_8"><use href="#Rr" x="500"/></g><g id="k39_9"><use href="#Or" x="552"/></g><g id="k39_10"><use href="#Rr" x="604"/></g><g id="k39_11"><use href="#Rr" x="656"/></g></g>
<g id="r40" transform="translate(0,2090)"><g id="k40_0"><use href="#Rl" x="84"/></g><g id="k40_1"><use href="#Rl" x="136"/></g><g id="k40_2"><use href="#Rl" x="188"/></g><g id="k40_3"><use href="#Rl" x="240"/></g><g id="k40_4"><use href="#Rl" x="292"/></g><g id="k40_5"><use href="#Rl" x="344"/></g><g id="k40_6"><use href="#Rl" x="396"/></g><g id="k40_7"><use href="#Rl" x="448"/></g><g id="k40_8"><use href="#Ol" x="500"/></g><g id="k40_9"><use href="#Rl" x="552"/></g><g id="k40_10"><use href="#Rl" x="604"/></g><g id="k40_11"><use href="#Rl" x="656"/></g></g>
<g id="r41" transform="translate(0,2142)"><g id="k41_0"><use href="#Rr" x="84"/></g><g id="k41_1"><use href="#Rr" x="136"/></g><g id="k41_2"><use href="#Rr" x="188"/></g><g id="k41_3"><use href="#Rr" x="240"/></g><g id="k41_4"><use href="#Rr" x="292"/></g><g id="k41_5"><use href="#Rr" x="344"/></g><g id="k41_6"><use href="#Rr" x="396"/></g><g id="k41_7"><use href="#Rr" x="448"/></g><g id="k41_8"><use href="#Rr" x="500"/></g><g id="k41_9"><use href="#Rr" x="552"/></g><g id="k41_10"><use href="#Rr" x="604"/></g><g id="k41_11"><use href="#Rr" x="656"/></g></g>
<g id="r42" transform="translate(0,2194)"><g id="k42_0"><use href="#Rl" x="84"/></g><g id="k42_1"><use href="#Rl" x="136"/></g><g id="k42_2"><use href="#Rl" x="188"/></g><g id="k42_3"><use href="#Rl" x="240"/></g><g id="k42_4"><use href="#Rl" x="292"/></g><g id="k42_5"><use href="#Rl" x="344"/></g><g id="k42_6"><use href="#Rl" x="396"/></g><g id="k42_7"><use href="#Rl" x="448"/></g><g id="k42_8"><use href="#Rl" x="500"/></g><g id="k42_9"><use href="#Rl" x="552"/></g><g id="k42_10"><use href="#Rl" x="604"/></g><g id="k42_11"><use href="#Rl" x="656"/></g></g>
<g id="r43" transform="translate(0,2246)"><g id="k43_0"><use href="#Rr" x="84"/></g><g id="k43_1"><use href="#Rr" x="136"/></g><g id="k43_2"><use href="#Rr" x="188"/></g><g id="k43_3"><use href="#Yr" x="240"/></g><g id="k43_4"><use href="#Yr" x="292"/></g><g id="k43_5"><use href="#Rr" x="344"/></g><g id="k43_6"><use href="#Rr" x="396"/></g><g id="k43_7"><use href="#Rr" x="448"/></g><g id="k43_8"><use href="#Rr" x="500"/></g><g id="k43_9"><use href="#Rr" x="552"/></g><g id="k43_10"><use href="#Rr" x="604"/></g><g id="k43_11"><use href="#Rr" x="656"/></g></g>
<g id="r44" transform="translate(0,2298)"><g id="k44_0"><use href="#Rl" x="84"/></g><g id="k44_1"><use href="#Rl" x="136"/></g><g id="k44_2"><use href="#Yl" x="188"/></g><g id="k44_3"><use href="#Yl" x="240"/></g><g id="k44_4"><use href="#Yl" x="292"/></g><g id="k44_5"><use href="#Yl" x="344"/></g><g id="k44_6"><use href="#Rl" x="396"/></g><g id="k44_7"><use href="#Yl" x="448"/></g><g id="k44_8"><use href="#Yl" x="500"/></g><g id="k44_9"><use href="#Rl" x="552"/></g><g id="k44_10"><use href="#Rl" x="604"/></g><g id="k44_11"><use href="#Rl" x="656"/></g></g>
<g id="r45" transform="translate(0,2350)"><g id="k45_0"><use href="#Rr" x="84"/></g><g id="k45_1"><use href="#Rr" x="136"/></g><g id="k45_2"><use href="#Yr" x="188"/></g><g id="k45_3"><use href="#Yr" x="240"/></g><g id="k45_4"><use href="#Yr" x="292"/></g><g id="k45_5"><use href="#Yr" x="344"/></g><g id="k45_6"><use href="#Yr" x="396"/></g><g id="k45_7"><use href="#Yr" x="448"/></g><g id="k45_8"><use href="#Yr" x="500"/></g><g id="k45_9"><use href="#Rr" x="552"/></g><g id="k45_10"><use href="#Rr" x="604"/></g><g id="k45_11"><use href="#Rr" x="656"/></g></g>
<g id="r46" transform="translate(0,2402)"><g id="k46_0"><use href="#Rl" x="84"/></g><g id="k46_1"><use href="#Rl" x="136"/></g><g id="k46_2"><use href="#Rl" x="188"/></g><g id="k46_3"><use href="#Yl" x="240"/></g><g id="k46_4"><use href="#Yl" x="292"/></g><g id="k46_5"><use href="#Yl" x="344"/></g><g id="k46_6"><use href="#Yl" x="396"/></g><g id="k46_7"><use href="#Yl" x="448"/></g><g id="k46_8"><use href="#Rl" x="500"/></g><g id="k46_9"><use href="#Rl" x="552"/></g><g id="k46_10"><use href="#Rl" x="604"/></g><g id="k46_11"><use href="#Rl" x="656"/></g></g>
<g id="r47" transform="translate(0,2454)"><g id="k47_0"><use href="#Rr" x="84"/></g><g id="k47_1"><use href="#Rr" x="136"/></g><g id="k47_2"><use href="#Rr" x="188"/></g><g id="k47_3"><use href="#Rr" x="240"/></g><g id="k47_4"><use href="#Yr" x="292"/></g><g id="k47_5"><use href="#Lr" x="344"/></g><g id="k47_6"><use href="#Lr" x="396"/></g><g id="k47_7"><use href="#Yr" x="448"/></g><g id="k47_8"><use href="#Yr" x="500"/></g><g id="k47_9"><use href="#Yr" x="552"/></g><g id="k47_10"><use href="#Rr" x="604"/></g><g id="k47_11"><use href="#Rr" x="656"/></g></g>
<g id="r48" transform="translate(0,2506)"><g id="k48_0"><use href="#Rl" x="84"/></g><g id="k48_1"><use href="#Rl" x="136"/></g><g id="k48_2"><use href="#Yl" x="188"/></g><g id="k48_3"><use href="#Yl" x="240"/></g><g id="k48_4"><use href="#Yl" x="292"/></g><g id="k48_5"><use href="#Ll" x="344"/></g><g id="k48_6"><use href="#Ll" x="396"/></g><g id="k48_7"><use href="#Yl" x="448"/></g><g id="k48_8"><use href="#Yl" x="500"/></g><g id="k48_9"><use href="#Yl" x="552"/></g><g id="k48_10"><use href="#Yl" x="604"/></g><g id="k48_11"><use href="#Rl" x="656"/></g></g>
<g id="r49" transform="translate(0,2558)"><g id="k49_0"><use href="#Rr" x="84"/></g><g id="k49_1"><use href="#Yr" x="136"/></g><g id="k49_2"><use href="#Yr" x="188"/></g><g id="k49_3"><use href="#Yr" x="240"/></g><g id="k49_4"><use href="#Yr" x="292"/></g><g id="k49_5"><use href="#Yr" x="344"/></g><g id="k49_6"><use href="#Yr" x="396"/></g><g id="k49_7"><use href="#Yr" x="448"/></g><g id="k49_8"><use href="#Yr" x="500"/></g><g id="k49_9"><use href="#Yr" x="552"/></g><g id="k49_10"><use href="#Yr" x="604"/></g><g id="k49_11"><use href="#Rr" x="656"/></g></g>
<g id="r50" transform="translate(0,2610)"><g id="k50_0"><use href="#Rl" x="84"/></g><g id="k50_1"><use href="#Yl" x="136"/></g><g id="k50_2"><use href="#Yl" x="188"/></g><g id="k50_3"><use href="#Yl" x="240"/></g><g id="k50_4"><use href="#Yl" x="292"/></g><g id="k50_5"><use href="#Yl" x="344"/></g><g id="k50_6"><use href="#Yl" x="396"/></g><g id="k50_7"><use href="#Rl" x="448"/></g><g id="k50_8"><use href="#Yl" x="500"/></g><g id="k50_9"><use href="#Yl" x="552"/></g><g id="k50_10"><use href="#Rl" x="604"/></g><g id="k50_11"><use href="#Rl" x="656"/></g></g>
<g id="r51" transform="translate(0,2662)"><g id="k51_0"><use href="#Rr" x="84"/></g><g id="k51_1"><use href="#Rr" x="136"/></g><g id="k51_2"><use href="#Yr" x="188"/></g><g id="k51_3"><use href="#Yr" x="240"/></g><g id="k51_4"><use href="#Rr" x="292"/></g><g id="k51_5"><use href="#Yr" x="344"/></g><g id="k51_6"><use href="#Yr" x="396"/></g><g id="k51_7"><use href="#Yr" x="448"/></g><g id="k51_8"><use href="#Rr" x="500"/></g><g id="k51_9"><use href="#Rr" x="552"/></g><g id="k51_10"><use href="#Rr" x="604"/></g><g id="k51_11"><use href="#Rr" x="656"/></g></g>
<g id="r52" transform="translate(0,2714)"><g id="k52_0"><use href="#Rl" x="84"/></g><g id="k52_1"><use href="#Rl" x="136"/></g><g id="k52_2"><use href="#Rl" x="188"/></g><g id="k52_3"><use href="#Rl" x="240"/></g><g id="k52_4"><use href="#Rl" x="292"/></g><g id="k52_5"><use href="#Rl" x="344"/></g><g id="k52_6"><use href="#Yl" x="396"/></g><g id="k52_7"><use href="#Yl" x="448"/></g><g id="k52_8"><use href="#Rl" x="500"/></g><g id="k52_9"><use href="#Rl" x="552"/></g><g id="k52_10"><use href="#Rl" x="604"/></g><g id="k52_11"><use href="#Rl" x="656"/></g></g>
<g id="r53" transform="translate(0,2766)"><g id="k53_0"><use href="#Rr" x="84"/></g><g id="k53_1"><use href="#Rr" x="136"/></g><g id="k53_2"><use href="#Rr" x="188"/></g><g id="k53_3"><use href="#Rr" x="240"/></g><g id="k53_4"><use href="#Rr" x="292"/></g><g id="k53_5"><use href="#Rr" x="344"/></g><g id="k53_6"><use href="#Rr" x="396"/></g><g id="k53_7"><use href="#Rr" x="448"/></g><g id="k53_8"><use href="#Rr" x="500"/></g><g id="k53_9"><use href="#Rr" x="552"/></g><g id="k53_10"><use href="#Rr" x="604"/></g><g id="k53_11"><use href="#Rr" x="656"/></g></g>
<g id="r54" transform="translate(0,2818)"><g id="k54_0"><use href="#Rl" x="84"/></g><g id="k54_1"><use href="#Rl" x="136"/></g><g id="k54_2"><use href="#Rl" x="188"/></g><g id="k54_3"><use href="#Rl" x="240"/></g><g id="k54_4"><use href="#Rl" x="292"/></g><g id="k54_5"><use href="#Rl" x="344"/></g><g id="k54_6"><use href="#Rl" x="396"/></g><g id="k54_7"><use href="#Rl" x="448"/></g><g id="k54_8"><use href="#Rl" x="500"/></g><g id="k54_9"><use href="#Rl" x="552"/></g><g id="k54_10"><use href="#Rl" x="604"/></g><g id="k54_11"><use href="#Rl" x="656"/></g></g>
<g id="r55" transform="translate(0,2870)"><g id="k55_0"><use href="#Rr" x="84"/></g><g id="k55_1"><use href="#Rr" x="136"/></g><g id="k55_2"><use href="#Rr" x="188"/></g><g id="k55_3"><use href="#Rr" x="240"/></g><g id="k55_4"><use href="#Rr" x="292"/></g><g id="k55_5"><use href="#Rr" x="344"/></g><g id="k55_6"><use href="#Rr" x="396"/></g><g id="k55_7"><use href="#Rr" x="448"/></g><g id="k55_8"><use href="#Rr" x="500"/></g><g id="k55_9"><use href="#Rr" x="552"/></g><g id="k55_10"><use href="#Rr" x="604"/></g><g id="k55_11"><use href="#Rr" x="656"/></g></g>
<g id="r56" transform="translate(0,2922)"><g id="k56_0"><use href="#Rl" x="84"/></g><g id="k56_1"><use href="#Rl" x="136"/></g><g id="k56_2"><use href="#Rl" x="188"/></g><g id="k56_3"><use href="#Ol" x="240"/></g><g id="k56_4"><use href="#Ol" x="292"/></g><g id="k56_5"><use href="#Ol" x="344"/></g><g id="k56_6"><use href="#Rl" x="396"/></g><g id="k56_7"><use href="#Rl" x="448"/></g><g id="k56_8"><use href="#Rl" x="500"/></g><g id="k56_9"><use href="#Ol" x="552"/></g><g id="k56_10"><use href="#Rl" x="604"/></g><g id="k56_11"><use href="#Rl" x="656"/></g></g>
<g id="r57" transform="translate(0,2974)"><g id="k57_0"><use href="#Rr" x="84"/></g><g id="k57_1"><use href="#Rr" x="136"/></g><g id="k57_2"><use href="#Or" x="188"/></g><g id="k57_3"><use href="#Lr" x="240"/></g><g id="k57_4"><use href="#Lr" x="292"/></g><g id="k57_5"><use href="#Or" x="344"/></g><g id="k57_6"><use href="#Or" x="396"/></g><g id="k57_7"><use href="#Rr" x="448"/></g><g id="k57_8"><use href="#Rr" x="500"/></g><g id="k57_9"><use href="#Rr" x="552"/></g><g id="k57_10"><use href="#Rr" x="604"/></g><g id="k57_11"><use href="#Rr" x="656"/></g></g>
<g id="r58" transform="translate(0,3026)"><g id="k58_0"><use href="#Rl" x="84"/></g><g id="k58_1"><use href="#Rl" x="136"/></g><g id="k58_2"><use href="#Ll" x="188"/></g><g id="k58_3"><use href="#Rl" x="240"/></g><g id="k58_4"><use href="#Ll" x="292"/></g><g id="k58_5"><use href="#Ll" x="344"/></g><g id="k58_6"><use href="#Ol" x="396"/></g><g id="k58_7"><use href="#Ol" x="448"/></g><g id="k58_8"><use href="#Rl" x="500"/></g><g id="k58_9"><use href="#Rl" x="552"/></g><g id="k58_10"><use href="#Rl" x="604"/></g><g id="k58_11"><use href="#Rl" x="656"/></g></g>
<g id="r59" transform="translate(0,3078)"><g id="k59_0"><use href="#Rr" x="84"/></g><g id="k59_1"><use href="#Rr" x="136"/></g><g id="k59_2"><use href="#Rr" x="188"/></g><g id="k59_3"><use href="#Rr" x="240"/></g><g id="k59_4"><use href="#Rr" x="292"/></g><g id="k59_5"><use href="#Lr" x="344"/></g><g id="k59_6"><use href="#Lr" x="396"/></g><g id="k59_7"><use href="#Or" x="448"/></g><g id="k59_8"><use href="#Or" x="500"/></g><g id="k59_9"><use href="#Rr" x="552"/></g><g id="k59_10"><use href="#Rr" x="604"/></g><g id="k59_11"><use href="#Rr" x="656"/></g></g>
<g id="r60" transform="translate(0,3130)"><g id="k60_0"><use href="#Rl" x="84"/></g><g id="k60_1"><use href="#Rl" x="136"/></g><g id="k60_2"><use href="#Ll" x="188"/></g><g id="k60_3"><use href="#Rl" x="240"/></g><g id="k60_4"><use href="#Ll" x="292"/></g><g id="k60_5"><use href="#Ll" x="344"/></g><g id="k60_6"><use href="#Ol" x="396"/></g><g id="k60_7"><use href="#Ol" x="448"/></g><g id="k60_8"><use href="#Rl" x="500"/></g><g id="k60_9"><use href="#Rl" x="552"/></g><g id="k60_10"><use href="#Rl" x="604"/></g><g id="k60_11"><use href="#Rl" x="656"/></g></g>
<g id="r61" transform="translate(0,3182)"><g id="k61_0"><use href="#Rr" x="84"/></g><g id="k61_1"><use href="#Rr" x="136"/></g><g id="k61_2"><use href="#Or" x="188"/></g><g id="k61_3"><use href="#Lr" x="240"/></g><g id="k61_4"><use href="#Lr" x="292"/></g><g id="k61_5"><use href="#Or" x="344"/></g><g id="k61_6"><use href="#Or" x="396"/></g><g id="k61_7"><use href="#Rr" x="448"/></g><g id="k61_8"><use href="#Or" x="500"/></g><g id="k61_9"><use href="#Rr" x="552"/></g><g id="k61_10"><use href="#Rr" x="604"/></g><g id="k61_11"><use href="#Rr" x="656"/></g></g>
<g id="r62" transform="translate(0,3234)"><g id="k62_0"><use href="#Rl" x="84"/></g><g id="k62_1"><use href="#Rl" x="136"/></g><g id="k62_2"><use href="#Rl" x="188"/></g><g id="k62_3"><use href="#Ol" x="240"/></g><g id="k62_4"><use href="#Ol" x="292"/></g><g id="k62_5"><use href="#Ol" x="344"/></g><g id="k62_6"><use href="#Rl" x="396"/></g><g id="k62_7"><use href="#Rl" x="448"/></g><g id="k62_8"><use href="#Rl" x="500"/></g><g id="k62_9"><use href="#Rl" x="552"/></g><g id="k62_10"><use href="#Rl" x="604"/></g><g id="k62_11"><use href="#Rl" x="656"/></g></g>
<g id="r63" transform="translate(0,3286)"><g id="k63_0"><use href="#Rr" x="84"/></g><g id="k63_1"><use href="#Rr" x="136"/></g><g id="k63_2"><use href="#Rr" x="188"/></g><g id="k63_3"><use href="#Rr" x="240"/></g><g id="k63_4"><use href="#Rr" x="292"/></g><g id="k63_5"><use href="#Rr" x="344"/></g><g id="k63_6"><use href="#Rr" x="396"/></g><g id="k63_7"><use href="#Rr" x="448"/></g><g id="k63_8"><use href="#Rr" x="500"/></g><g id="k63_9"><use href="#Rr" x="552"/></g><g id="k63_10"><use href="#Rr" x="604"/></g><g id="k63_11"><use href="#Rr" x="656"/></g></g>
<g id="r64" transform="translate(0,3338)"><g id="k64_0"><use href="#Rl" x="84"/></g><g id="k64_1"><use href="#Rl" x="136"/></g><g id="k64_2"><use href="#Rl" x="188"/></g><g id="k64_3"><use href="#Rl" x="240"/></g><g id="k64_4"><use href="#Rl" x="292"/></g><g id="k64_5"><use href="#Rl" x="344"/></g><g id="k64_6"><use href="#Rl" x="396"/></g><g id="k64_7"><use href="#Rl" x="448"/></g><g id="k64_8"><use href="#Rl" x="500"/></g><g id="k64_9"><use href="#Rl" x="552"/></g><g id="k64_10"><use href="#Rl" x="604"/></g><g id="k64_11"><use href="#Rl" x="656"/></g></g>
<g id="r65" transform="translate(0,3390)"><g id="k65_0"><use href="#Rr" x="84"/></g><g id="k65_1"><use href="#Rr" x="136"/></g><g id="k65_2"><use href="#Rr" x="188"/></g><g id="k65_3"><use href="#Rr" x="240"/></g><g id="k65_4"><use href="#Rr" x="292"/></g><g id="k65_5"><use href="#Rr" x="344"/></g><g id="k65_6"><use href="#Rr" x="396"/></g><g id="k65_7"><use href="#Rr" x="448"/></g><g id="k65_8"><use href="#Rr" x="500"/></g><g id="k65_9"><use href="#Rr" x="552"/></g><g id="k65_10"><use href="#Rr" x="604"/></g><g id="k65_11"><use href="#Rr" x="656"/></g></g>
<g id="r66" transform="translate(0,3442)"><g id="k66_0"><use href="#Rl" x="84"/></g><g id="k66_1"><use href="#Rl" x="136"/></g><g id="k66_2"><use href="#Rl" x="188"/></g><g id="k66_3"><use href="#Rl" x="240"/></g><g id="k66_4"><use href="#Rl" x="292"/></g><g id="k66_5"><use href="#Rl" x="344"/></g><g id="k66_6"><use href="#Rl" x="396"/></g><g id="k66_7"><use href="#Rl" x="448"/></g><g id="k66_8"><use href="#Rl" x="500"/></g><g id="k66_9"><use href="#Rl" x="552"/></g><g id="k66_10"><use href="#Rl" x="604"/></g><g id="k66_11"><use href="#Rl" x="656"/></g></g>
<g id="r67" transform="translate(0,3494)"><g id="k67_0"><use href="#Rr" x="84"/></g><g id="k67_1"><use href="#Rr" x="136"/></g><g id="k67_2"><use href="#Rr" x="188"/></g><g id="k67_3"><use href="#Rr" x="240"/></g><g id="k67_4"><use href="#Rr" x="292"/></g><g id="k67_5"><use href="#Rr" x="344"/></g><g id="k67_6"><use href="#Rr" x="396"/></g><g id="k67_7"><use href="#Rr" x="448"/></g><g id="k67_8"><use href="#Rr" x="500"/></g><g id="k67_9"><use href="#Rr" x="552"/></g><g id="k67_10"><use href="#Rr" x="604"/></g><g id="k67_11"><use href="#Rr" x="656"/></g></g>
<g id="r68" transform="translate(0,3546)"><g id="k68_0"><use href="#Rl" x="84"/></g><g id="k68_1"><use href="#Rl" x="136"/></g><g id="k68_2"><use href="#Rl" x="188"/></g><g id="k68_3"><use href="#Rl" x="240"/></g><g id="k68_4"><use href="#Rl" x="292"/></g><g id="k68_5"><use href="#Rl" x="344"/></g><g id="k68_6"><use href="#Rl" x="396"/></g><g id="k68_7"><use href="#Rl" x="448"/></g><g id="k68_8"><use href="#Rl" x="500"/></g><g id="k68_9"><use href="#Rl" x="552"/></g><g id="k68_10"><use href="#Rl" x="604"/></g><g id="k68_11"><use href="#Rl" x="656"/></g></g>
<g id="r69" transform="translate(0,3598)"><g id="k69_0"><use href="#Rr" x="84"/></g><g id="k69_1"><use href="#Rr" x="136"/></g><g id="k69_2"><use href="#Rr" x="188"/></g><g id="k69_3"><use href="#Rr" x="240"/></g><g id="k69_4"><use href="#Rr" x="292"/></g><g id="k69_5"><use href="#Rr" x="344"/></g><g id="k69_6"><use href="#Rr" x="396"/></g><g id="k69_7"><use href="#Rr" x="448"/></g><g id="k69_8"><use href="#Rr" x="500"/></g><g id="k69_9"><use href="#Rr" x="552"/></g><g id="k69_10"><use href="#Rr" x="604"/></g><g id="k69_11"><use href="#Rr" x="656"/></g></g>
<g id="r70" transform="translate(0,3650)"><g id="k70_0"><use href="#Rl" x="84"/></g><g id="k70_1"><use href="#Rl" x="136"/></g><g id="k70_2"><use href="#Rl" x="188"/></g><g id="k70_3"><use href="#Rl" x="240"/></g><g id="k70_4"><use href="#Rl" x="292"/></g><g id="k70_5"><use href="#Rl" x="344"/></g><g id="k70_6"><use href="#Rl" x="396"/></g><g id="k70_7"><use href="#Rl" x="448"/></g><g id="k70_8"><use href="#Rl" x="500"/></g><g id="k70_9"><use href="#Rl" x="552"/></g><g id="k70_10"><use href="#Rl" x="604"/></g><g id="k70_11"><use href="#Rl" x="656"/></g></g>
<g id="r71" transform="translate(0,3702)"><g id="k71_0"><use href="#Rr" x="84"/></g><g id="k71_1"><use href="#Rr" x="136"/></g><g id="k71_2"><use href="#Rr" x="188"/></g><g id="k71_3"><use href="#Rr" x="240"/></g><g id="k71_4"><use href="#Rr" x="292"/></g><g id="k71_5"><use href="#Rr" x="344"/></g><g id="k71_6"><use href="#Rr" x="396"/></g><g id="k71_7"><use href="#Rr" x="448"/></g><g id="k71_8"><use href="#Rr" x="500"/></g><g id="k71_9"><use href="#Rr" x="552"/></g><g id="k71_10"><use href="#Rr" x="604"/></g><g id="k71_11"><use href="#Rr" x="656"/></g></g>
</g>
<text x="369" y="1913" text-anchor="middle" font-family="Liberation Sans, Arial, sans-serif" font-weight="bold" font-size="15" textLength="154" lengthAdjust="spacingAndGlyphs" fill="#4a4a4a" stroke="#fff" stroke-width="2.5" paint-order="stroke" stroke-linejoin="round">BRACELETBOOK.COM</text>
</svg>
